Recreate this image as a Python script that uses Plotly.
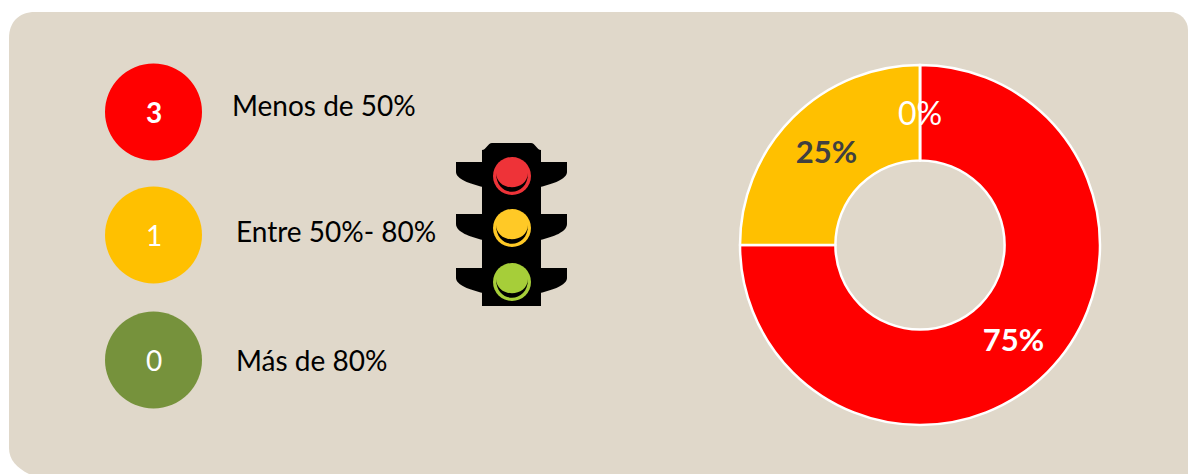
import plotly.graph_objects as go

W, H = 1188, 474

# data
categories = ["Menos de 50%", "Entre 50%- 80%", "Más de 80%"]
counts = [3, 1, 0]
slice_colors = ["#FF0000", "#FFC000", "#76923C"]
percent_colors = ["#FFFFFF", "#404040", "#FFFFFF"]
light_colors = ["#EE3338", "#FFC926", "#A6CE39"]

total = sum(counts)
percents = [round(100 * c / total) for c in counts]


def px(x):
    return x / W


def py(y):
    return 1 - y / H


def path(cmds):
    out = []
    for c in cmds:
        if c[0] == "Z":
            out.append("Z")
        else:
            pts = c[1:]
            s = " ".join(f"{px(pts[i]):.5f},{py(pts[i + 1]):.5f}" for i in range(0, len(pts), 2))
            out.append(f"{c[0]} {s}")
    return " ".join(out)


def filled(p, color):
    return dict(type="path", xref="paper", yref="paper", path=p, fillcolor=color, line=dict(width=0), layer="below")


def disc(cx, cy, r, color):
    return dict(type="circle", xref="paper", yref="paper", x0=px(cx - r), x1=px(cx + r),
                y0=py(cy + r), y1=py(cy - r), fillcolor=color, line=dict(width=0), layer="below")


shapes = []
# rounded panel
L, T, R, B, r = 9, 12, 1188, 474, 26
shapes.append(filled(path([
    ("M", L + r, T), ("L", R - 18, T), ("C", R - 8, T, R, T + 8, R, T + 18),
    ("L", R, B), ("L", L + 20, B), ("C", L + 8, B - 6, L, B - 14, L, B - 26),
    ("L", L, T + r), ("C", L, T + 10, L + 10, T, L + r, T), ("Z",)
]), "#E0D8CA"))

# traffic light body
shapes.append(filled(path([
    ("M", 492, 143), ("L", 531, 143), ("C", 535, 143, 537, 150, 541, 150), ("L", 541, 306),
    ("L", 482, 306), ("L", 482, 150), ("C", 486, 150, 488, 143, 492, 143), ("Z",)
]), "#000000"))
for top, bottom in [(162, 187), (214, 240), (268, 293)]:
    shapes.append(filled(path([
        ("M", 456, top), ("L", 483, top), ("L", 483, bottom),
        ("C", 470, bottom - 3, 456, bottom - 8, 456, top + 10), ("Z",)
    ]), "#000000"))
    shapes.append(filled(path([
        ("M", 567, top), ("L", 540, top), ("L", 540, bottom),
        ("C", 553, bottom - 3, 567, bottom - 8, 567, top + 10), ("Z",)
    ]), "#000000"))
for cy, color in zip([176, 228, 282], light_colors):
    shapes.append(disc(512, cy, 19, color))
    shapes.append(filled(path([
        ("M", 496, cy - 3), ("C", 496, cy + 22, 528, cy + 22, 528, cy - 3),
        ("C", 527, cy + 16, 497, cy + 16, 496, cy - 3), ("Z",)
    ]), "#000000"))

# legend discs
ys = [112, 235, 360]
for cy, color in zip(ys, slice_colors):
    shapes.append(disc(153.5, cy, 48.5, color))

annotations = []
label_pos = [(230, 105), (234, 231), (234, 360)]
font = "Lato, Open Sans, sans-serif"
for (x, y), cat in zip(label_pos, categories):
    annotations.append(dict(xref="paper", yref="paper", x=px(x), y=py(y), text=cat, showarrow=False,
                            xanchor="left", yanchor="middle", font=dict(family=font, size=28, color="#000000")))
for i, (cy, n) in enumerate(zip(ys, counts)):
    annotations.append(dict(xref="paper", yref="paper", x=px(153.5), y=py(cy), showarrow=False,
                            text=f"<b>{n}</b>" if i == 0 else str(n), xanchor="center", yanchor="middle",
                            font=dict(family=font, size=28, color="#FFFFFF")))

# the empty slice carries no text of its own in the pie, so its label sits at the ring's top
for p, color in zip(percents, percent_colors):
    if p == 0:
        annotations.append(dict(xref="paper", yref="paper", x=px(919.5), y=py(113), text=f"{p}%", showarrow=False,
                                xanchor="center", yanchor="middle",
                                font=dict(family=font, size=32, color=color)))

pie = go.Pie(
    values=counts, labels=categories, sort=False, direction="clockwise", rotation=0, hole=0.47,
    marker=dict(colors=slice_colors, line=dict(color="#FFFFFF", width=2.5)),
    text=[f"<b>{p}%</b>" if p else "" for p in percents], textinfo="text",
    textposition="inside", insidetextorientation="horizontal",
    insidetextfont=dict(family=font, size=31, color=percent_colors),
    domain=dict(x=[px(740), px(1100)], y=[py(425), py(65)]),
    showlegend=False, hoverinfo="label+percent",
)

fig = go.Figure(pie)
fig.update_layout(width=W, height=H, margin=dict(l=0, r=0, t=0, b=0), paper_bgcolor="#FFFFFF",
                  plot_bgcolor="rgba(0,0,0,0)", shapes=shapes, annotations=annotations)
fig.write_html("out.html", config=dict(displayModeBar=False),
               post_script="document.body.style.margin='0';document.body.style.overflow='hidden';")
